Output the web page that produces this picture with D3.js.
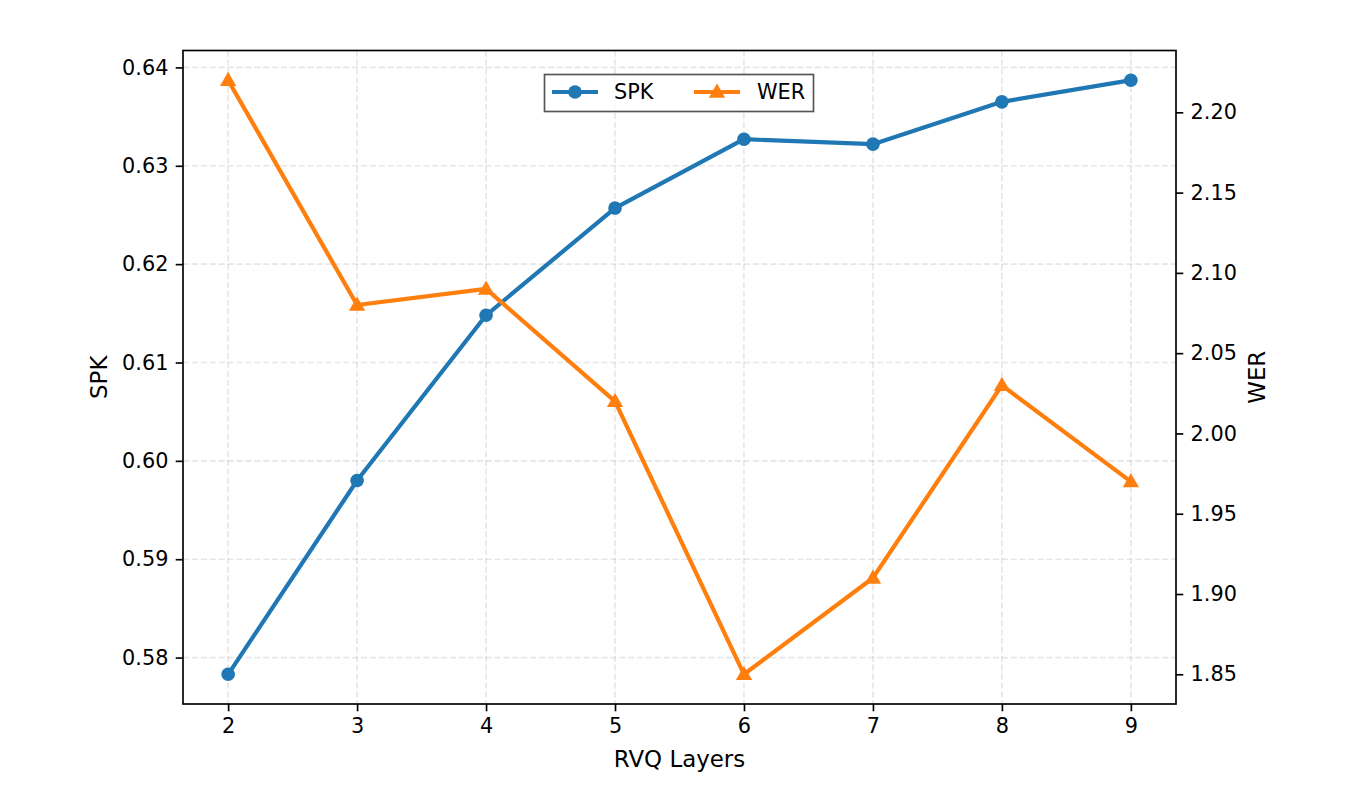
<!DOCTYPE html>
<html>
<head>
<meta charset="utf-8">
<script src="https://cdn.jsdelivr.net/npm/d3@7"></script>
<style>
  html, body { margin: 0; padding: 0; background: #ffffff; }
  svg { display: block; font-family: "DejaVu Sans", sans-serif; }
</style>
</head>
<body>
<svg id="chart" width="1360" height="799"></svg>
<script>
// ---- data ----
const layers = [2, 3, 4, 5, 6, 7, 8, 9];
const spk = [0.5783, 0.5980, 0.6148, 0.6257, 0.6327, 0.6322, 0.6365, 0.6387];
const wer = [2.22, 2.08, 2.09, 2.02, 1.85, 1.91, 2.03, 1.97];
const spkTicks = [0.58, 0.59, 0.60, 0.61, 0.62, 0.63, 0.64];
const werTicks = [1.85, 1.90, 1.95, 2.00, 2.05, 2.10, 2.15, 2.20];
const xTicks = [2, 3, 4, 5, 6, 7, 8, 9];
const seriesNames = ["SPK", "WER"];
const xLabel = "RVQ Layers";

// ---- layout ----
const svg = d3.select("#chart");
const L = 183, R = 1176, T = 50.5, B = 704;
const blue = "#1f77b4", orange = "#ff7f0e";
const tickFont = 20.8, labelFont = 22.9;

function padded(arr) {
  const [a, b] = d3.extent(arr);
  const p = (b - a) * 0.05;
  return [a - p, b + p];
}
const xd = d3.extent(layers);
const xp = (xd[1] - xd[0]) * 0.05;
const x = d3.scaleLinear().domain([xd[0] - xp, xd[1] + xp]).range([L, R]);
const yL = d3.scaleLinear().domain(padded(spk)).range([B, T]);
const yR = d3.scaleLinear().domain(padded(wer)).range([B, T]);

// ---- grid ----
const grid = svg.append("g").attr("stroke", "#b0b0b0").attr("stroke-opacity", 0.3)
  .attr("stroke-width", 1.67).attr("stroke-dasharray", "6.2,2.7");
grid.selectAll("line.gy").data(spkTicks).enter().append("line")
  .attr("x1", L).attr("x2", R).attr("y1", d => yL(d)).attr("y2", d => yL(d));
grid.selectAll("line.gx").data(xTicks).enter().append("line")
  .attr("x1", d => x(d)).attr("x2", d => x(d)).attr("y1", T).attr("y2", B);

// ---- axes ----
function styleAxis(g) {
  g.selectAll(".domain").remove();
  g.selectAll(".tick line").attr("stroke", "#000").attr("stroke-width", 1.67);
  g.selectAll(".tick text").attr("fill", "#000").attr("font-size", tickFont)
    .attr("font-family", "DejaVu Sans");
}
svg.append("g").attr("transform", `translate(0,${B})`)
  .call(d3.axisBottom(x).tickValues(xTicks).tickFormat(d3.format("d")).tickSize(7.3).tickPadding(7.3))
  .call(styleAxis);
svg.append("g").attr("transform", `translate(${L},0)`)
  .call(d3.axisLeft(yL).tickValues(spkTicks).tickFormat(d3.format(".2f")).tickSize(7.3).tickPadding(7.3))
  .call(styleAxis);
svg.append("g").attr("transform", `translate(${R},0)`)
  .call(d3.axisRight(yR).tickValues(werTicks).tickFormat(d3.format(".2f")).tickSize(7.3).tickPadding(7.3))
  .call(styleAxis);

// ---- lines ----
const spkLine = d3.line().x((d, i) => x(layers[i])).y(d => yL(d));
const werLine = d3.line().x((d, i) => x(layers[i])).y(d => yR(d));
const tri = d3.symbol().type(d3.symbolTriangle).size(115);

svg.append("path").datum(spk).attr("d", spkLine).attr("fill", "none")
  .attr("stroke", blue).attr("stroke-width", 4.2).attr("stroke-linejoin", "round").attr("stroke-linecap", "square");
svg.append("g").selectAll("circle").data(spk).enter().append("circle")
  .attr("cx", (d, i) => x(layers[i])).attr("cy", d => yL(d)).attr("r", 6.8).attr("fill", blue);

svg.append("path").datum(wer).attr("d", werLine).attr("fill", "none")
  .attr("stroke", orange).attr("stroke-width", 4.2).attr("stroke-linejoin", "round").attr("stroke-linecap", "square");
svg.append("g").selectAll("path.tri").data(wer).enter().append("path")
  .attr("d", tri).attr("fill", orange)
  .attr("transform", (d, i) => `translate(${x(layers[i])},${yR(d) + 1})`);

// ---- frame ----
svg.append("rect").attr("x", L).attr("y", T).attr("width", R - L).attr("height", B - T)
  .attr("fill", "none").attr("stroke", "#000").attr("stroke-width", 1.67);

// ---- axis labels ----
svg.append("text").attr("x", (L + R) / 2).attr("y", 767).attr("text-anchor", "middle")
  .attr("font-size", labelFont).text(xLabel);
svg.append("text").attr("transform", `translate(107,${(T + B) / 2}) rotate(-90)`)
  .attr("text-anchor", "middle").attr("font-size", labelFont).text(seriesNames[0]);
svg.append("text").attr("transform", `translate(1265,${(T + B) / 2}) rotate(-90)`)
  .attr("text-anchor", "middle").attr("font-size", labelFont).text(seriesNames[1]);

// ---- legend ----
const lg = svg.append("g");
lg.append("rect").attr("x", 544.5).attr("y", 74.5).attr("width", 269).attr("height", 37)
  .attr("fill", "#fff").attr("fill-opacity", 0.8).attr("stroke", "#555").attr("stroke-width", 1.67);
const items = [
  { name: seriesNames[0], color: blue, x0: 552, tx: 614, marker: "circle" },
  { name: seriesNames[1], color: orange, x0: 694, tx: 757, marker: "tri" }
];
items.forEach(it => {
  lg.append("line").attr("x1", it.x0).attr("x2", it.x0 + 46).attr("y1", 92).attr("y2", 92)
    .attr("stroke", it.color).attr("stroke-width", 4.2);
  if (it.marker === "circle") {
    lg.append("circle").attr("cx", it.x0 + 23).attr("cy", 92).attr("r", 6.8).attr("fill", it.color);
  } else {
    lg.append("path").attr("d", tri).attr("fill", it.color)
      .attr("transform", `translate(${it.x0 + 23},93)`);
  }
  lg.append("text").attr("x", it.tx).attr("y", 99).attr("font-size", tickFont).text(it.name);
});
</script>
</body>
</html>
